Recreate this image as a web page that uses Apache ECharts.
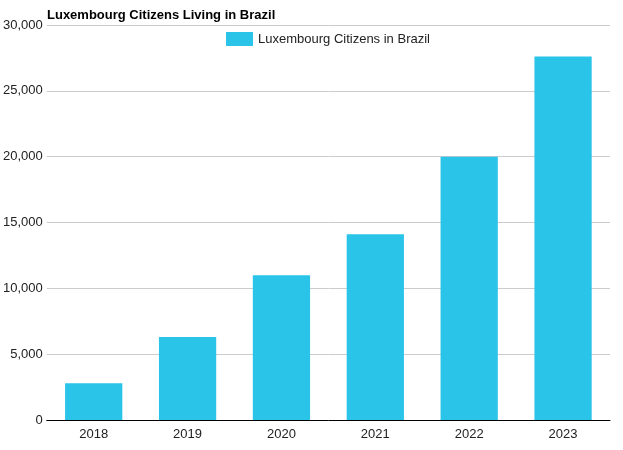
<!DOCTYPE html>
<html>
<head>
<meta charset="utf-8">
<script src="https://cdn.jsdelivr.net/npm/echarts@6/dist/echarts.min.js"></script>
<style>
  html, body { margin: 0; padding: 0; background: #fff; }
  #chart { width: 623px; height: 450px; }
</style>
</head>
<body>
<div id="chart"></div>
<script>
	// data
	var years = ['2018', '2019', '2020', '2021', '2022', '2023'];
	var citizens = [2800, 6300, 11000, 14100, 20000, 27600];
	var seriesName = 'Luxembourg Citizens in Brazil';

	var chart = echarts.init(document.getElementById('chart'));
	chart.setOption({
		animation: false,
		title: {
			text: 'Luxembourg Citizens Living in Brazil',
			left: 42,
			top: 4,
			textStyle: { fontFamily: 'Liberation Sans', fontSize: 13, fontWeight: 'bold', color: '#000' }
		},
		legend: {
			top: 27,
			left: 221,
			icon: 'rect',
			itemWidth: 27,
			itemHeight: 14,
			textStyle: { fontFamily: 'Liberation Sans', fontSize: 13, color: '#222' },
			data: [seriesName]
		},
		grid: { left: 46, right: 13, top: 25, bottom: 30, containLabel: false },
		xAxis: {
			type: 'category',
			data: years,
			axisLine: { lineStyle: { color: '#000', width: 1 } },
			axisTick: { show: false },
			axisLabel: { fontFamily: 'Liberation Sans', fontSize: 13, color: '#222', margin: 8 }
		},
		yAxis: {
			type: 'value',
			min: 0,
			max: 30000,
			interval: 5000,
			axisLine: { show: false },
			axisTick: { show: false },
			splitLine: { lineStyle: { color: '#ccc' } },
			axisLabel: {
				fontFamily: 'Liberation Sans', fontSize: 13, color: '#222', margin: 4,
				formatter: function (v) { return v.toLocaleString('en-US'); }
			}
		},
		series: [{
			name: seriesName,
			type: 'bar',
			data: citizens,
			barWidth: '61%',
			itemStyle: { color: '#2BC4E9' }
		}]
	});
</script>
</body>
</html>
